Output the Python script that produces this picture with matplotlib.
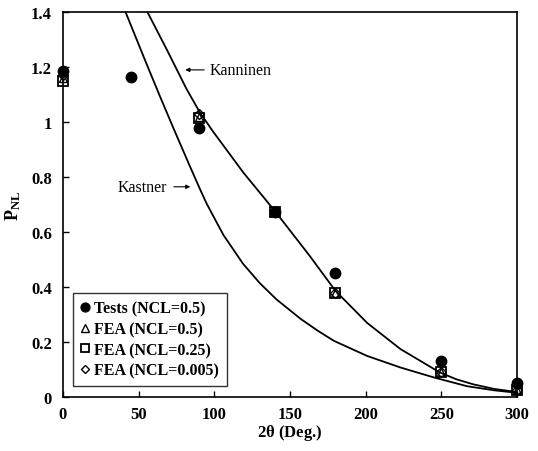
import matplotlib.pyplot as plt
import numpy as np

plt.rcParams['font.family'] = ['Liberation Serif', 'DejaVu Serif']
plt.rcParams['font.weight'] = 'bold'
plt.rcParams['mathtext.fontset'] = 'custom'
plt.rcParams['mathtext.rm'] = 'Liberation Serif'
plt.rcParams['mathtext.bf'] = 'Liberation Serif:bold'

# curves
kan_x = [50, 54.9, 68.5, 81.7, 90.5, 99, 106, 119, 140, 163, 180, 201, 223, 249, 260, 271, 285, 297, 300]
kan_y = [1.46, 1.41, 1.265, 1.12, 1.035, 0.967, 0.915, 0.818, 0.677, 0.514, 0.387, 0.27, 0.175, 0.09, 0.065, 0.047, 0.03, 0.021, 0.019]
kas_x = [38, 41, 55, 64, 73, 84, 90.5, 95, 106, 119, 130, 141, 157, 168, 179, 201, 223, 245, 267, 285, 297, 300]
kas_y = [1.45, 1.405, 1.215, 1.095, 0.978, 0.838, 0.757, 0.703, 0.59, 0.485, 0.415, 0.356, 0.285, 0.243, 0.205, 0.15, 0.108, 0.072, 0.04, 0.025, 0.018, 0.016]

# data points
test_x = [0, 45, 90, 140, 180, 250, 300]
test_y = [1.185, 1.163, 0.98, 0.675, 0.45, 0.13, 0.05]
fea05_x = [0, 90, 140, 180, 250, 300]
fea05_y = [1.16, 1.02, 0.675, 0.38, 0.09, 0.025]
fea025_x = [0, 90, 140, 180, 250, 300]
fea025_y = [1.15, 1.015, 0.675, 0.38, 0.09, 0.025]
fea0005_x = [0, 90, 140, 180, 250, 300]
fea0005_y = [1.17, 1.03, 0.675, 0.38, 0.09, 0.025]

fig = plt.figure(figsize=(5.38, 4.52), dpi=100)
ax = fig.add_axes([0.117, 0.119, 0.844, 0.852])

ax.plot(kan_x, kan_y, color='black', lw=1.3, label='_nolegend_')
ax.plot(kas_x, kas_y, color='black', lw=1.3, label='_nolegend_')

ax.plot(test_x, test_y, 'o', ms=7.5, color='black', label='Tests (NCL=0.5)', clip_on=False, zorder=5)
ax.plot(fea05_x, fea05_y, '^', ms=6, mfc='none', mec='black', mew=1.0, label='FEA (NCL=0.5)', clip_on=False, zorder=6)
ax.plot(fea025_x, fea025_y, 's', ms=7.5, mfc='none', mec='black', mew=1.3, label='FEA (NCL=0.25)', clip_on=False, zorder=6)
ax.plot(fea0005_x, fea0005_y, 'D', ms=5, mfc='none', mec='black', mew=1.0, label='FEA (NCL=0.005)', clip_on=False, zorder=6)

ax.set_xlim(0, 300)
ax.set_ylim(0, 1.4)
ax.set_xticks([0, 50, 100, 150, 200, 250, 300])
ax.set_xticklabels(['0', '50', '100', '150', '200', '250', '300'])
ax.set_yticks([0, 0.2, 0.4, 0.6, 0.8, 1.0, 1.2, 1.4])
ax.set_yticklabels(['0', '0.2', '0.4', '0.6', '0.8', '1', '1.2', '1.4'])
ax.tick_params(direction='in', length=4, width=1, labelsize=12)
ax.tick_params(axis='x', pad=6)
ax.tick_params(axis='y', pad=8)
for lab in ax.get_xticklabels() + ax.get_yticklabels():
    lab.set_fontweight('bold')
for sp in ax.spines.values():
    sp.set_linewidth(1.2)

ax.set_xlabel(r'2$\mathbf{\theta}$ (Deg.)', fontsize=12, fontweight='bold', labelpad=0)
ax.set_ylabel(r'$\mathbf{P_{NL}}$', fontsize=13, labelpad=6)

ax.annotate('Kanninen', xy=(79, 1.19), xytext=(97, 1.19), fontsize=11.5,
            va='center', ha='left', fontweight='normal',
            arrowprops=dict(arrowstyle='-|>', color='black', lw=0.8, mutation_scale=6))
ax.annotate('Kastner', xy=(86, 0.765), xytext=(36, 0.765), fontsize=11.5,
            va='center', ha='left', fontweight='normal',
            arrowprops=dict(arrowstyle='-|>', color='black', lw=0.8, mutation_scale=6,
                            shrinkA=3))

leg = ax.legend(loc='lower left', bbox_to_anchor=(0.022, 0.029), borderaxespad=0,
                frameon=True, fancybox=False, markerscale=0.85,
                edgecolor='black', fontsize=11.5, handlelength=0.6, handletextpad=0.3,
                borderpad=0.45, labelspacing=0.3)
leg.get_frame().set_linewidth(1.0)
for t in leg.get_texts():
    t.set_fontweight('bold')

fig.savefig('out.png', dpi=100)
